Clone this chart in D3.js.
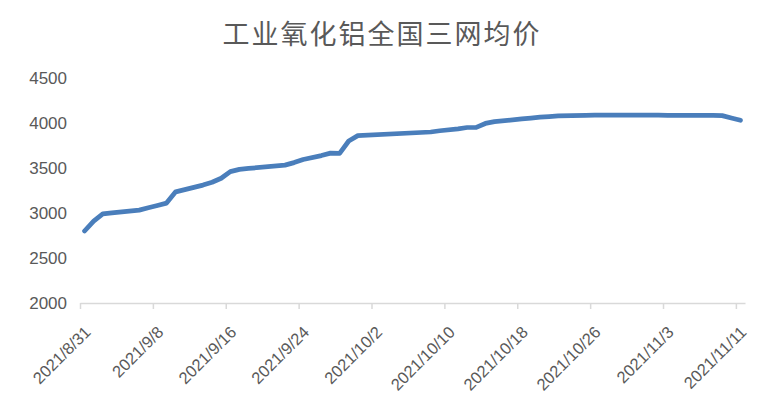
<!DOCTYPE html>
<html>
<head>
<meta charset="utf-8">
<script src="https://cdn.jsdelivr.net/npm/d3@7/dist/d3.min.js"></script>
<style>
html,body{margin:0;padding:0;background:#fff;}
svg{display:block;}
</style>
</head>
<body>
<svg id="chart" width="768" height="414"></svg>
<script>
const title = "工业氧化铝全国三网均价";
const dates = [
  "2021/8/31","2021/9/1","2021/9/2","2021/9/3","2021/9/6","2021/9/7","2021/9/8","2021/9/9","2021/9/10",
  "2021/9/13","2021/9/14","2021/9/15","2021/9/16","2021/9/17","2021/9/18","2021/9/22","2021/9/23","2021/9/24",
  "2021/9/26","2021/9/27","2021/9/28","2021/9/29","2021/9/30","2021/10/8","2021/10/9","2021/10/11","2021/10/12",
  "2021/10/13","2021/10/14","2021/10/15","2021/10/18","2021/10/19","2021/10/20","2021/10/21","2021/10/22",
  "2021/10/25","2021/10/26","2021/10/27","2021/10/28","2021/10/29","2021/11/1","2021/11/2","2021/11/3",
  "2021/11/4","2021/11/5","2021/11/8","2021/11/9","2021/11/10","2021/11/11"
];
const prices = [
  2800,2910,2990,3002,3032,3058,3084,3110,3235,
  3310,3342,3386,3460,3485,3495,3532,3560,3595,
  3638,3665,3663,3800,3860,3900,3914,3935,3950,
  3952,3995,4016,4045,4055,4065,4072,4078,
  4085,4088,4088,4088,4088,4088,4088,4086,
  4085,4085,4085,4082,4056,4030
];
const yTicks = [2000,2500,3000,3500,4000,4500];
const xTickLabels = ["2021/8/31","2021/9/8","2021/9/16","2021/9/24","2021/10/2","2021/10/10","2021/10/18","2021/10/26","2021/11/3","2021/11/11"];
const axisStart = "2021/8/31", axisEnd = "2021/11/12";

const parse = d3.utcParse("%Y/%m/%d");
const fmt = d => d3.utcFormat("%Y/%-m/%-d")(d);
const data = dates.map((d,i)=>({date: parse(d), value: prices[i]}));

const svg = d3.select("#chart");
const x = d3.scaleUtc().domain([parse(axisStart), parse(axisEnd)]).range([80, 745]);
const y = d3.scaleLinear().domain([2000, 4500]).range([303, 78]);

// title
svg.append("text")
  .attr("x", 382).attr("y", 44)
  .attr("text-anchor", "middle")
  .attr("font-family", "'Noto Sans CJK SC', sans-serif")
  .attr("font-size", 27)
  .attr("letter-spacing", 2)
  .attr("fill", "#595959")
  .text(title);

// y axis (labels only)
const yAxis = d3.axisLeft(y).tickValues(yTicks).tickFormat(d3.format("d")).tickSize(0).tickPadding(0);
const gy = svg.append("g").attr("transform", "translate(67,0)").call(yAxis);
gy.select(".domain").remove();
gy.selectAll("text")
  .attr("font-family", "'Liberation Sans', Arial, sans-serif")
  .attr("font-size", 17)
  .attr("fill", "#595959");

// x axis
const xAxis = d3.axisBottom(x)
  .tickValues(xTickLabels.map(parse))
  .tickFormat(fmt)
  .tickSize(6)
  .tickSizeOuter(0);
const gx = svg.append("g").attr("transform", "translate(0,303)").call(xAxis);
gx.select(".domain").attr("stroke", "#d9d9d9").attr("stroke-width", 1.5);
gx.selectAll(".tick line").attr("stroke", "#d9d9d9").attr("stroke-width", 1.5);
gx.selectAll("text")
  .attr("font-family", "'Liberation Sans', Arial, sans-serif")
  .attr("font-size", 16.5)
  .attr("fill", "#595959")
  .attr("text-anchor", "end")
  .attr("dy", "0.35em")
  .attr("transform", "translate(0,19) rotate(-45)")
  .attr("x", 0).attr("y", 10);

// line
const line = d3.line()
  .x(d => x(d3.utcHour.offset(d.date, 12)))
  .y(d => y(d.value));
svg.append("path")
  .datum(data)
  .attr("fill", "none")
  .attr("stroke", "#4a7ebb")
  .attr("stroke-width", 4.75)
  .attr("stroke-linejoin", "round")
  .attr("stroke-linecap", "round")
  .attr("d", line);
</script>
</body>
</html>
